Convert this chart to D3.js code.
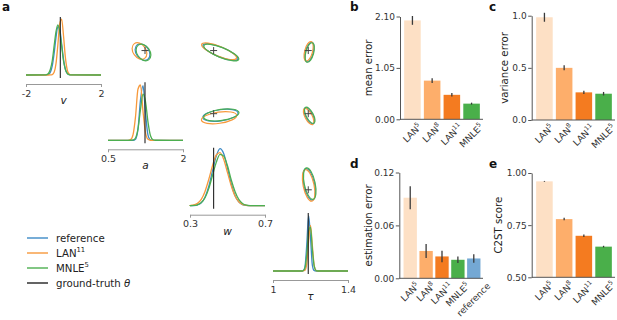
<!DOCTYPE html>
<html><head><meta charset="utf-8">
<script src="https://cdn.jsdelivr.net/npm/d3@7"></script>
<style>body{margin:0;background:#fff} svg{display:block;font-family:"DejaVu Sans",sans-serif}</style>
</head><body><svg id="c" width="617" height="320"></svg>
<script>
// ---------- panel a data ----------
const params = ["v","a","w","τ"];
const paramMin = [-2, 0.5, 0.3, 1.0];
const paramMax = [2, 2, 0.7, 1.4];
const diagTickLabels = [["-2","2"],["0.5","2"],["0.3","0.7"],["1","1.4"]];
const groundTruth = [-0.17, 1.24, 0.426, 1.188];

const methodNames = ["reference","LAN","MNLE"];
const methodSups = ["","11","5"];
const methodColors = ["#3d8ac6","#f7993b","#4caf50"];

// marginal densities (relative heights)
const vGrid = [-1.0,-0.9,-0.8,-0.7,-0.6,-0.5,-0.4,-0.3,-0.2,-0.1,0.0,0.1,0.2,0.3,0.4];
const vRef  = [0,0.002,0.011,0.049,0.16,0.38,0.66,0.85,0.8,0.55,0.28,0.1,0.028,0.006,0.001];
const vLAN  = [0,0,0,0.001,0.007,0.048,0.2,0.53,0.9,0.98,0.69,0.31,0.09,0.017,0.002];
const vMNLE = [0.001,0.006,0.028,0.1,0.25,0.51,0.76,0.88,0.76,0.51,0.25,0.1,0.028,0.006,0.001];

const aGrid = [0.9,0.95,1.0,1.05,1.1,1.15,1.2,1.25,1.3,1.35,1.4,1.45];
const aRef  = [0,0,0.001,0.02,0.2,0.71,0.96,0.48,0.09,0.006,0,0];
const aLAN  = [0,0.011,0.095,0.41,0.9,0.97,0.51,0.135,0.018,0.001,0,0];
const aMNLE = [0,0.001,0.004,0.04,0.2,0.54,0.81,0.68,0.32,0.08,0.01,0.001];

const wGrid = [0.30,0.32,0.34,0.36,0.38,0.40,0.42,0.44,0.46,0.48,0.50,0.52,0.54,0.56,0.58,0.60,0.62];
const wRef  = [0,0.003,0.015,0.052,0.15,0.34,0.61,0.87,1.0,0.91,0.66,0.38,0.18,0.066,0.019,0.004,0];
const wLAN  = [0.003,0.013,0.041,0.11,0.25,0.46,0.7,0.89,0.93,0.81,0.58,0.35,0.17,0.07,0.023,0.007,0.001];
const wMNLE = [0.001,0.004,0.016,0.054,0.14,0.3,0.53,0.76,0.9,0.87,0.7,0.45,0.25,0.11,0.04,0.011,0.003];

const tGrid = [1.15,1.16,1.17,1.18,1.19,1.20,1.21,1.22,1.23,1.24];
const tRef  = [0,0.003,0.064,0.46,0.97,0.59,0.1,0.006,0,0];
const tLAN  = [0,0.001,0.012,0.13,0.53,0.8,0.44,0.09,0.007,0];
const tMNLE = [0,0.004,0.05,0.29,0.7,0.77,0.37,0.08,0.007,0];

const gridByParam = [vGrid, aGrid, wGrid, tGrid];
const densByParam = [[vRef,vLAN,vMNLE],[aRef,aLAN,aMNLE],[wRef,wLAN,wMNLE],[tRef,tLAN,tMNLE]];

// pairwise contours (ellipse summaries): cell row/col, centres per method, radii, tilt
const contourRows = [0,0,0,1,1,2];
const contourCols = [1,2,3,2,3,3];
const contourCx = [[1.19,1.13,1.21],[0.462,0.455,0.467],[1.194,1.19,1.196],[0.462,0.455,0.467],[1.193,1.19,1.196],[1.193,1.19,1.196]];
const contourCy = [[-0.27,-0.2,-0.30],[-0.27,-0.22,-0.30],[-0.27,-0.22,-0.30],[1.2,1.14,1.21],[1.19,1.17,1.2],[0.462,0.455,0.467]];
const contourRx = [0.18,0.10,0.021,0.095,0.019,0.029];
const contourRy = [0.43,0.33,0.67,0.14,0.225,0.107];
const contourAngle = [55,22,15,-8,-28,-12];

// ---------- panels b-e data ----------
const barBase = ["LAN","LAN","LAN","MNLE","reference"];
const barSup  = ["5","8","11","5",""];
const barColors = ["#fde0c5","#fdae6b","#f47b20","#4aaf4a","#74a8d4"];

const meanError = [2.02,0.79,0.50,0.32];
const meanErrorCI = [0.09,0.05,0.035,0.02];
const meanTicks = [0,1.05,2.10];
const meanTickLabels = ["0.00","1.05","2.10"];

const varError = [0.985,0.50,0.265,0.252];
const varErrorCI = [0.043,0.024,0.016,0.017];
const varTicks = [0,0.5,1.0];
const varTickLabels = ["0.0","0.5","1.0"];

const estError = [0.0914,0.031,0.0248,0.021,0.0225];
const estErrorCI = [0.013,0.008,0.0065,0.0036,0.0048];
const estTicks = [0,0.06,0.12];
const estTickLabels = ["0.00","0.06","0.12"];

const c2st = [0.96,0.779,0.699,0.647];
const c2stCI = [0.002,0.006,0.006,0.004];
const c2stTicks = [0.5,0.75,1.0];
const c2stTickLabels = ["0.50","0.75","1.00"];

// ---------- drawing ----------
const svg = d3.select("#c");
const colX = [26,108,190,273], cellW = 75, cellH = 60;
const rowTop = [18,83.3,148.7,214];

const xs = params.map((p,i)=>d3.scaleLinear().domain([paramMin[i],paramMax[i]]).range([colX[i], colX[i]+cellW]));
const ys = params.map((p,i)=>d3.scaleLinear().domain([paramMin[i],paramMax[i]]).range([rowTop[i]+cellH, rowTop[i]]));

// diagonals
params.forEach((p,i)=>{
  const hy = d3.scaleLinear().domain([0,1]).range([rowTop[i]+57, rowTop[i]]);
  const line = d3.line().x(d=>xs[i](d[0])).y(d=>hy(d[1])).curve(d3.curveMonotoneX);
  densByParam[i].forEach((dens,m)=>{
    const pts = [[paramMin[i],0]].concat(gridByParam[i].map((g,k)=>[g,dens[k]])).concat([[paramMax[i],0]]);
    svg.append("path").attr("d",line(pts)).attr("fill","none")
      .attr("stroke",methodColors[m]).attr("stroke-width",1.3);
  });
  svg.append("line").attr("x1",xs[i](groundTruth[i])).attr("x2",xs[i](groundTruth[i]))
    .attr("y1",rowTop[i]-1).attr("y2",rowTop[i]+cellH).attr("stroke","#222").attr("stroke-width",1.1);
  const ax = d3.axisBottom(xs[i]).tickValues([paramMin[i],paramMax[i]])
    .tickFormat((d,k)=>diagTickLabels[i][k]).tickSize(3).tickSizeOuter(0);
  const g = svg.append("g").attr("transform",`translate(0,${rowTop[i]+66})`).call(ax);
  g.select(".domain").attr("stroke","#999");
  g.selectAll(".tick line").attr("stroke","#999");
  g.selectAll(".tick text").attr("font-size",9.5).attr("fill","#333").attr("font-family","DejaVu Sans");
  svg.append("text").attr("x",colX[i]+cellW/2).attr("y",rowTop[i]+86).attr("text-anchor","middle")
    .attr("font-size",10.5).attr("font-style","italic").attr("fill","#222").text(p);
});

// off-diagonal contours
contourRows.forEach((r,k)=>{
  const c = contourCols[k];
  const g = svg.append("g");
  methodColors.forEach((col,m)=>{
    const cx = xs[c](contourCx[k][m]), cy = ys[r](contourCy[k][m]);
    const rx = Math.abs(xs[c](contourCx[k][m]+contourRx[k]) - cx);
    const ry = Math.abs(ys[r](contourCy[k][m]+contourRy[k]) - cy);
    g.append("ellipse").attr("cx",cx).attr("cy",cy).attr("rx",rx).attr("ry",ry)
      .attr("transform",`rotate(${contourAngle[k]},${cx},${cy})`)
      .attr("fill","none").attr("stroke",col).attr("stroke-width",1.2);
  });
  const px = xs[c](groundTruth[c]), py = ys[r](groundTruth[r]);
  g.append("path").attr("d",`M${px-3.5},${py}H${px+3.5}M${px},${py-3.5}V${py+3.5}`)
    .attr("stroke","#444").attr("stroke-width",1);
});

// legend
const legY = [238,253,268,283];
const legColors = methodColors.concat(["#222"]);
legY.forEach((y,k)=>{
  svg.append("line").attr("x1",27).attr("x2",48).attr("y1",y).attr("y2",y)
    .attr("stroke",legColors[k]).attr("stroke-width",1.4);
  const t = svg.append("text").attr("x",56).attr("y",y+3.5).attr("font-size",10.2).attr("fill","#222");
  if(k<3){
    t.append("tspan").text(methodNames[k]);
    if(methodSups[k]) t.append("tspan").attr("font-size",6.8).attr("dy",-4.5).text(methodSups[k]);
  } else {
    t.append("tspan").text("ground-truth ");
    t.append("tspan").attr("font-style","italic").text("θ");
  }
});

// panel letters
[["a",2,11],["b",350,11],["c",489,11],["d",350,168],["e",489,168]].forEach(([l,x,y])=>{
  svg.append("text").attr("x",x).attr("y",y).attr("font-size",12).attr("font-weight","bold")
    .attr("fill","#111").text(l);
});

function barPanel(o){
  const n = o.values.length;
  const xb = d3.scaleBand().domain(d3.range(n)).range(o.band).paddingInner(0.16).paddingOuter(0.16);
  const y = d3.scaleLinear().domain(o.domain).range([o.yBot,o.yTop]);
  const g = svg.append("g");
  o.values.forEach((v,i)=>{
    g.append("rect").attr("x",xb(i)).attr("width",xb.bandwidth())
      .attr("y",y(v)).attr("height",y(o.domain[0])-y(v)).attr("fill",barColors[i]);
    const cx = xb(i)+xb.bandwidth()/2;
    g.append("line").attr("x1",cx).attr("x2",cx).attr("y1",y(v-o.ci[i])).attr("y2",y(v+o.ci[i]))
      .attr("stroke","#3a3a3a").attr("stroke-width",1.3);
    // rotated tick label, its rotated box centred under the bar
    const t = g.append("text").attr("font-size",9).attr("fill","#333");
    t.append("tspan").text(barBase[i]);
    if(barSup[i]) t.append("tspan").attr("font-size",6.2).attr("dy",-3.8).text(barSup[i]);
    const bb = t.node().getBBox();
    const w = bb.width, h = 8.5;
    const c0x = bb.x + w/2, c0y = -2.9;
    const half = (w + h) * Math.SQRT1_2 / 2;
    t.attr("transform",`translate(${cx},${o.yBot + 3 + half}) rotate(-45) translate(${-c0x},${-c0y})`);
  });
  const ay = d3.axisLeft(y).tickValues(o.ticks).tickFormat((d,k)=>o.tickLabels[k])
    .tickSize(3.5).tickPadding(1.5).tickSizeOuter(0);
  const ga = g.append("g").attr("transform",`translate(${o.spineX},0)`).call(ay);
  ga.select(".domain").attr("stroke","#555");
  ga.selectAll(".tick line").attr("stroke","#555");
  ga.selectAll(".tick text").attr("font-size",9).attr("fill","#333").attr("font-family","DejaVu Sans");
  g.append("line").attr("x1",o.spineX).attr("x2",o.band[1]).attr("y1",o.yBot).attr("y2",o.yBot)
    .attr("stroke","#555");
  g.append("text").attr("transform",`translate(${o.labelX},${(o.yTop+o.yBot)/2}) rotate(-90)`)
    .attr("text-anchor","middle").attr("font-size",10.2).attr("fill","#222").text(o.label);
}

barPanel({values:meanError,ci:meanErrorCI,domain:[0,2.10],ticks:meanTicks,tickLabels:meanTickLabels,
  band:[401,483],spineX:400,yTop:16.5,yBot:119.3,label:"mean error",labelX:372});
barPanel({values:varError,ci:varErrorCI,domain:[0,1.0],ticks:varTicks,tickLabels:varTickLabels,
  band:[533,615],spineX:531.7,yTop:15.7,yBot:120,label:"variance error",labelX:508});
barPanel({values:estError,ci:estErrorCI,domain:[0,0.12],ticks:estTicks,tickLabels:estTickLabels,
  band:[401,483],spineX:399.3,yTop:172.5,yBot:278.3,label:"estimation error",labelX:372});
barPanel({values:c2st,ci:c2stCI,domain:[0.5,1.0],ticks:c2stTicks,tickLabels:c2stTickLabels,
  band:[533,615],spineX:531.7,yTop:173,yBot:277.3,label:"C2ST score",labelX:502});
</script></body></html>
